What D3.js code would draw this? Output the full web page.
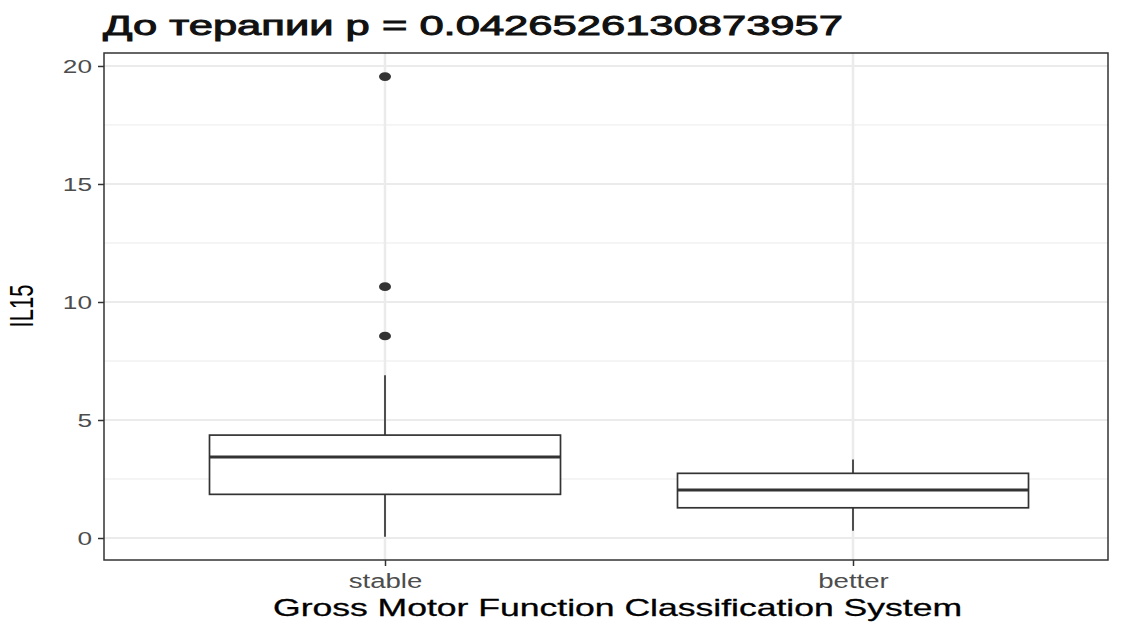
<!DOCTYPE html>
<html>
<head>
<meta charset="utf-8">
<script src="https://cdn.jsdelivr.net/npm/d3@7"></script>
<style>
  html, body { margin: 0; padding: 0; background: #ffffff; }
  svg { display: block; font-family: "Liberation Sans", Arial, sans-serif; }
</style>
</head>
<body>
<svg id="chart" width="1122" height="622"></svg>
<script>
// ---- data ----
const categories = ["stable", "better"];
const whiskerLow = [0.05, 0.31];
const q1 = [1.85, 1.28];
const median = [3.43, 2.03];
const q3 = [4.36, 2.74];
const whiskerHigh = [6.9, 3.33];
const outlierGroup = ["stable", "stable", "stable"];
const outlierValue = [8.56, 10.65, 19.55];
const yMajorTicks = [0, 5, 10, 15, 20];
const yMinorTicks = [2.5, 7.5, 12.5, 17.5];
const titleText = "До терапии p = 0.0426526130873957";
const xTitle = "Gross Motor Function Classification System";
const yTitle = "IL15";

// ---- layout ----
const W = 1122, H = 622;
const panel = { left: 104, right: 1108, top: 53, bottom: 560 };
const stretch = 1.38; // horizontal glyph stretch seen in reference

const svg = d3.select("#chart");

const y = d3.scaleLinear().domain([-0.932, 20.55]).range([panel.bottom, panel.top]);
const x = d3.scalePoint().domain(categories).range([panel.left + 281, panel.right - 255]);
const step = x(categories[1]) - x(categories[0]);
const boxW = step * 0.75;

function stretchText(sel, factor) {
  sel.each(function () {
    const len = this.getComputedTextLength();
    d3.select(this).attr("textLength", len * factor).attr("lengthAdjust", "spacingAndGlyphs");
  });
}

// panel background
svg.append("rect").attr("x", panel.left).attr("y", panel.top)
  .attr("width", panel.right - panel.left).attr("height", panel.bottom - panel.top)
  .attr("fill", "#ffffff");

// gridlines
const grid = svg.append("g");
grid.selectAll(".minor").data(yMinorTicks).join("line")
  .attr("x1", panel.left).attr("x2", panel.right)
  .attr("y1", d => y(d)).attr("y2", d => y(d))
  .attr("stroke", "#ebebeb").attr("stroke-width", 1);
grid.selectAll(".major").data(yMajorTicks).join("line")
  .attr("x1", panel.left).attr("x2", panel.right)
  .attr("y1", d => y(d)).attr("y2", d => y(d))
  .attr("stroke", "#ebebeb").attr("stroke-width", 2);
grid.selectAll(".vmajor").data(categories).join("line")
  .attr("x1", d => x(d)).attr("x2", d => x(d))
  .attr("y1", panel.top).attr("y2", panel.bottom)
  .attr("stroke", "#ebebeb").attr("stroke-width", 2.5);

// boxplots
const boxes = svg.append("g");
categories.forEach((c, i) => {
  const cx = x(c);
  boxes.append("line").attr("x1", cx).attr("x2", cx)
    .attr("y1", y(q3[i])).attr("y2", y(whiskerHigh[i]))
    .attr("stroke", "#333333").attr("stroke-width", 1.7);
  boxes.append("line").attr("x1", cx).attr("x2", cx)
    .attr("y1", y(q1[i])).attr("y2", y(whiskerLow[i]))
    .attr("stroke", "#333333").attr("stroke-width", 1.7);
  boxes.append("rect")
    .attr("x", cx - boxW / 2).attr("width", boxW)
    .attr("y", y(q3[i])).attr("height", y(q1[i]) - y(q3[i]))
    .attr("fill", "#ffffff").attr("stroke", "#333333").attr("stroke-width", 1.7);
  boxes.append("line").attr("x1", cx - boxW / 2).attr("x2", cx + boxW / 2)
    .attr("y1", y(median[i])).attr("y2", y(median[i]))
    .attr("stroke", "#333333").attr("stroke-width", 3);
});

// outliers
svg.append("g").selectAll("ellipse").data(outlierValue).join("ellipse")
  .attr("cx", (d, i) => x(outlierGroup[i]))
  .attr("cy", d => y(d))
  .attr("rx", 6).attr("ry", 4.3)
  .attr("fill", "#333333");

// panel border
svg.append("rect").attr("x", panel.left).attr("y", panel.top)
  .attr("width", panel.right - panel.left).attr("height", panel.bottom - panel.top)
  .attr("fill", "none").attr("stroke", "#333333").attr("stroke-width", 1.5);

// y axis
const yAxis = svg.append("g").attr("transform", `translate(${panel.left},0)`)
  .call(d3.axisLeft(y).tickValues(yMajorTicks).tickSize(6).tickPadding(6).tickFormat(d3.format("d")));
yAxis.select(".domain").remove();
yAxis.selectAll(".tick line").attr("stroke", "#333333").attr("stroke-width", 1.5);
yAxis.selectAll(".tick text").attr("fill", "#4d4d4d").attr("font-size", 19)
  .attr("font-family", "Liberation Sans, Arial, sans-serif").attr("dy", "0.34em");
stretchText(yAxis.selectAll(".tick text"), stretch);

// x axis
const xAxis = svg.append("g").attr("transform", `translate(0,${panel.bottom})`)
  .call(d3.axisBottom(x).tickSize(6).tickPadding(5));
xAxis.select(".domain").remove();
xAxis.selectAll(".tick line").attr("stroke", "#333333").attr("stroke-width", 1.5);
xAxis.selectAll(".tick text").attr("fill", "#4d4d4d").attr("font-size", 20)
  .attr("font-family", "Liberation Sans, Arial, sans-serif").attr("dy", "0.85em");
stretchText(xAxis.selectAll(".tick text"), stretch);

// titles
const t = svg.append("text").attr("x", 103).attr("y", 35)
  .attr("font-size", 27).attr("fill", "#111111")
  .attr("stroke", "#111111").attr("stroke-width", 0.9).text(titleText);
t.attr("textLength", 740).attr("lengthAdjust", "spacingAndGlyphs");

const xt = svg.append("text").attr("x", (273 + 962) / 2).attr("y", 616)
  .attr("text-anchor", "middle").attr("font-size", 24).attr("fill", "#000000")
  .attr("stroke", "#000000").attr("stroke-width", 0.3).text(xTitle);
xt.attr("textLength", 689).attr("lengthAdjust", "spacingAndGlyphs");

const yt = svg.append("text")
  .attr("transform", `translate(33,306) scale(1.5,1) rotate(-90)`)
  .attr("text-anchor", "middle").attr("font-size", 22).attr("fill", "#000000").text(yTitle);
yt.attr("textLength", 43).attr("lengthAdjust", "spacingAndGlyphs");
</script>
</body>
</html>
